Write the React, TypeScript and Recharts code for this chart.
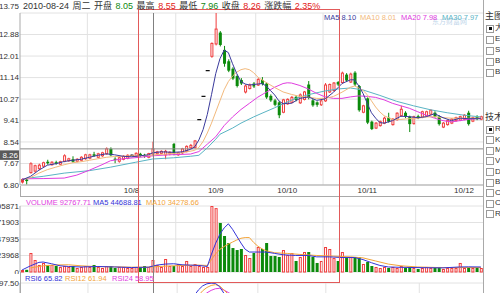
import React from "react";
import {
  Bar,
  CartesianGrid,
  ComposedChart,
  Line,
  ReferenceLine,
  XAxis,
  YAxis,
} from "recharts";

// daily candles (left to right)
const opens = [
  6.92, 7.02, 7.3, 7.36, 7.46, 7.56, 7.74, 7.62, 7.72, 7.64,
  7.76, 7.78, 7.84, 7.76, 7.8, 7.86, 7.88, 8.04, 7.92, 7.98,
  8.06, 8.26, 7.86, 7.76, 7.84, 7.88, 8.0, 7.96, 8.06, 8.02,
  7.92, 8.05, 8.06, 8.08, 8.02, 8.06, 8.46, 8.02, 8.1, 8.16,
  8.3, 8.32, 9.44, 10.38, 11.42, 12.0, 12.5, 12.96, 12.26, 11.8,
  11.5, 11.2, 11.04, 10.56, 10.7, 10.9, 10.84, 11.04, 10.9, 10.4,
  10.22, 10.14, 9.74, 10.08, 10.14, 10.36, 10.12, 10.26, 10.86, 10.22,
  10.14, 10.04, 10.2, 10.56, 10.62, 10.96, 10.94, 11.26, 10.96, 11.34,
  10.8, 9.74, 10.3, 9.36, 9.1, 9.2, 9.3, 9.52, 9.24, 9.44,
  9.6, 9.72, 9.56, 9.28, 9.58, 9.54, 9.6, 9.66, 9.72, 9.56,
  9.14, 9.24, 9.3, 9.4, 9.42, 9.46, 9.72, 9.38, 9.56, 9.46,
];
const highs = [
  7.06, 7.05, 7.72, 7.62, 7.66, 7.74, 7.82, 7.76, 7.78, 7.78,
  8.04, 7.9, 7.96, 7.88, 7.96, 8.06, 8.06, 8.14, 8.1, 8.14,
  8.32, 8.32, 7.92, 7.94, 8.0, 8.04, 8.04, 8.12, 8.1, 8.06,
  8.1, 8.55, 8.18, 8.2, 8.22, 8.16, 8.5, 8.14, 8.3, 8.4,
  8.46, 8.62, 9.44, 10.38, 11.42, 12.56, 13.75, 13.02, 12.42, 11.88,
  11.56, 11.26, 11.12, 10.86, 10.9, 10.96, 11.12, 11.16, 10.94, 10.46,
  10.28, 10.2, 10.28, 10.3, 10.4, 10.42, 10.5, 10.6, 11.0, 10.28,
  10.18, 10.24, 10.92, 10.9, 10.96, 11.0, 11.38, 11.32, 11.34, 11.4,
  10.84, 10.04, 10.34, 9.4, 9.34, 9.4, 9.56, 9.72, 9.5, 9.74,
  10.0, 9.78, 9.6, 9.6, 9.64, 9.8, 9.8, 9.86, 9.78, 9.62,
  9.34, 9.44, 9.5, 9.56, 9.6, 9.66, 9.8, 9.56, 9.62, 9.6,
];
const lows = [
  6.86, 6.82, 7.26, 7.3, 7.4, 7.52, 7.62, 7.58, 7.62, 7.6,
  7.72, 7.74, 7.7, 7.72, 7.76, 7.82, 7.84, 7.94, 7.88, 7.94,
  8.02, 7.96, 7.68, 7.7, 7.8, 7.84, 7.96, 7.92, 7.94, 7.9,
  7.88, 7.96, 8.02, 8.04, 7.84, 8.0, 8.0, 7.98, 8.06, 8.12,
  8.26, 8.28, 9.44, 10.38, 11.42, 11.94, 12.44, 12.4, 11.58, 11.36,
  11.04, 10.74, 10.84, 10.5, 10.66, 10.72, 10.8, 10.82, 10.28, 10.16,
  9.98, 9.5, 9.7, 10.04, 10.1, 10.18, 10.08, 10.22, 10.26, 9.96,
  9.96, 10.0, 10.16, 10.52, 10.58, 10.8, 10.9, 10.96, 10.92, 10.8,
  9.76, 9.7, 9.26, 9.02, 9.06, 9.16, 9.26, 9.32, 9.2, 9.4,
  9.56, 9.5, 8.94, 9.24, 9.46, 9.5, 9.56, 9.62, 9.52, 9.2,
  9.1, 9.2, 9.26, 9.36, 9.38, 9.42, 9.2, 9.34, 9.42, 9.42,
];
const closes = [
  7.02, 6.96, 7.66, 7.58, 7.6, 7.7, 7.68, 7.72, 7.66, 7.74,
  7.98, 7.86, 7.74, 7.84, 7.92, 8.02, 8.02, 7.98, 8.06, 8.1,
  8.26, 8.0, 7.82, 7.9, 7.96, 8.0, 8.0, 8.08, 7.98, 7.96,
  8.07, 8.26, 8.14, 8.16, 8.16, 8.12, 8.06, 8.1, 8.26, 8.36,
  8.4, 8.58, 9.44, 10.38, 11.42, 12.52, 13.1, 12.46, 11.7, 11.42,
  11.1, 10.8, 10.9, 10.8, 10.84, 10.78, 11.06, 10.88, 10.34, 10.22,
  10.04, 9.62, 10.24, 10.26, 10.34, 10.24, 10.44, 10.56, 10.32, 10.02,
  10.04, 10.2, 10.84, 10.86, 10.92, 10.86, 11.32, 11.02, 11.28, 10.86,
  9.82, 10.0, 9.32, 9.06, 9.3, 9.36, 9.5, 9.36, 9.46, 9.7,
  9.86, 9.56, 9.26, 9.56, 9.5, 9.76, 9.76, 9.82, 9.56, 9.26,
  9.3, 9.4, 9.46, 9.52, 9.56, 9.62, 9.26, 9.52, 9.46, 9.56,
];
const volumes = [
  2900, 3200, 27600, 17400, 10200, 13100, 10200, 10200, 8700, 7300,
  8700, 7300, 8700, 5800, 7300, 8700, 7300, 10200, 7300, 5800,
  8700, 8700, 5800, 7300, 7300, 5800, 5800, 7300, 7300, 8700,
  7300, 17400, 10200, 7300, 18900, 8700, 8700, 11600, 8700, 16000,
  8700, 11600, 8700, 7300, 7300, 95871, 92768, 71200, 52300, 42100,
  34800, 31900, 33400, 24700, 20300, 27600, 36300, 33400, 42100, 23200,
  23200, 21800, 31900, 24700, 27600, 16000, 21800, 29000, 29000, 21800,
  13100, 16000, 36300, 33400, 20300, 16000, 29000, 20300, 21800, 21800,
  21800, 11600, 14500, 8700, 7300, 5800, 7300, 5800, 7300, 5800,
  8700, 5800, 7300, 5800, 4400, 5800, 7300, 5800, 5800, 7300,
  4400, 5800, 5800, 5800, 13100, 5800, 7300, 5800, 5800, 5800,
];

// moving-average lines, read at [candle index, value]
type Pt = [number, number];
const ma5Pts: Pt[] = [
  [0, 7.0], [2, 7.15], [4, 7.4], [6, 7.6], [8, 7.66], [10, 7.75], [12, 7.8], [14, 7.84],
  [16, 7.92], [18, 8.0], [20, 8.06], [22, 8.02], [24, 7.96], [26, 7.94], [28, 7.98],
  [30, 8.02], [31, 8.1], [33, 8.14], [36, 8.12], [38, 8.14], [40, 8.24], [41, 8.34],
  [42, 8.62], [43, 9.04], [44, 9.65], [45, 10.45], [46, 11.3], [47, 11.9], [48, 12.25],
  [49, 12.15], [50, 11.7], [51, 11.3], [52, 10.98], [53, 10.88], [54, 10.84], [56, 10.88],
  [57, 10.9], [58, 10.8], [59, 10.62], [60, 10.44], [61, 10.2], [62, 10.08], [63, 10.1],
  [64, 10.1], [66, 10.3], [68, 10.36], [70, 10.22], [72, 10.28], [74, 10.55], [76, 10.9],
  [78, 11.05], [79, 11.05], [80, 10.8], [81, 10.5], [82, 10.1], [83, 9.72], [84, 9.5],
  [85, 9.32], [86, 9.3], [88, 9.4], [90, 9.58], [92, 9.56], [94, 9.52], [96, 9.56],
  [98, 9.68], [100, 9.52], [102, 9.4], [104, 9.5], [106, 9.48], [109, 9.48],
];
const ma10Pts: Pt[] = [
  [0, 7.02], [2, 7.1], [4, 7.28], [6, 7.42], [8, 7.52], [10, 7.62], [12, 7.7], [14, 7.74],
  [16, 7.8], [18, 7.86], [20, 7.92], [22, 7.95], [24, 7.96], [26, 7.98], [28, 7.98],
  [30, 8.0], [31, 8.01], [34, 8.05], [38, 8.1], [41, 8.2], [42, 8.32], [43, 8.56],
  [44, 8.9], [45, 9.3], [46, 9.75], [47, 10.2], [48, 10.65], [49, 10.98], [50, 11.2],
  [51, 11.36], [52, 11.46], [53, 11.5], [54, 11.46], [55, 11.34], [56, 11.16], [58, 10.94],
  [60, 10.74], [62, 10.56], [64, 10.46], [66, 10.38], [68, 10.35], [70, 10.3], [72, 10.3],
  [74, 10.38], [76, 10.55], [78, 10.75], [79, 10.8], [80, 10.72], [81, 10.62], [82, 10.45],
  [83, 10.2], [84, 9.95], [85, 9.75], [86, 9.6], [88, 9.45], [90, 9.45], [92, 9.48],
  [94, 9.5], [96, 9.55], [98, 9.56], [100, 9.52], [102, 9.5], [104, 9.5], [106, 9.5],
  [109, 9.5],
];
const ma20Pts: Pt[] = [
  [0, 7.05], [5, 7.06], [10, 7.08], [13, 7.2], [16, 7.4], [19, 7.62], [21, 7.78],
  [24, 7.86], [28, 7.92], [31, 7.98], [35, 8.02], [40, 8.05], [42, 8.15], [44, 8.45],
  [46, 8.75], [48, 9.2], [50, 9.55], [52, 9.85], [54, 10.1], [56, 10.35], [58, 10.55],
  [60, 10.75], [62, 10.9], [63, 10.93], [64, 10.92], [66, 10.82], [68, 10.68], [70, 10.5],
  [72, 10.36], [74, 10.3], [76, 10.3], [78, 10.36], [80, 10.4], [82, 10.38], [84, 10.34],
  [86, 10.24], [88, 10.1], [90, 10.0], [92, 9.9], [94, 9.76], [96, 9.62], [98, 9.5],
  [100, 9.4], [102, 9.35], [104, 9.4], [106, 9.45], [109, 9.5],
];
const ma30Pts: Pt[] = [
  [0, 7.05], [5, 7.15], [10, 7.28], [16, 7.38], [21, 7.52], [27, 7.72], [31, 7.85],
  [36, 7.9], [40, 7.96], [42, 8.0], [44, 8.3], [46, 8.65], [47, 8.85], [50, 9.1],
  [52, 9.3], [55, 9.55], [57, 9.7], [60, 9.92], [62, 10.08], [65, 10.3], [68, 10.45],
  [72, 10.6], [75, 10.68], [78, 10.72], [81, 10.64], [85, 10.42], [89, 10.18], [93, 10.0],
  [97, 9.84], [101, 9.72], [105, 9.62], [109, 9.55],
];
const vma5Pts: Pt[] = [
  [0, 3000], [2, 9000], [4, 14000], [5, 14500], [7, 12000], [9, 9000], [11, 8000],
  [14, 7300], [18, 8000], [22, 7300], [26, 6500], [30, 7000], [32, 10000], [34, 11500],
  [36, 12000], [38, 10500], [40, 10000], [42, 9500], [44, 8000], [45, 26000], [46, 42000],
  [47, 55000], [48, 64000], [49, 70000], [50, 62000], [51, 52000], [52, 42000], [53, 33000],
  [54, 29000], [56, 29000], [58, 29000], [60, 27000], [62, 25000], [65, 24000], [68, 24000],
  [70, 22000], [73, 22000], [76, 21000], [79, 21000], [81, 18000], [83, 13500], [85, 9500],
  [87, 7300], [90, 6800], [95, 6300], [100, 6000], [104, 7300], [106, 7500], [109, 7300],
];
const vma10Pts: Pt[] = [
  [2, 6000], [5, 9000], [8, 10200], [11, 10500], [14, 9000], [18, 7800], [22, 7500],
  [26, 7000], [30, 7000], [34, 8500], [38, 9500], [42, 10000], [44, 9500], [45, 18000],
  [46, 26500], [47, 33000], [48, 37000], [49, 40500], [50, 43500], [51, 46500], [52, 49000],
  [53, 50000], [54, 50000], [55, 43000], [56, 37500], [57, 33700], [58, 30700], [60, 28000],
  [63, 27000], [66, 25500], [70, 24000], [74, 23000], [78, 22000], [81, 20500], [84, 16000],
  [87, 11500], [90, 9000], [94, 7300], [100, 6300], [105, 6500], [109, 6500],
];
const rsi6Pts: Pt[] = [
  [38, 62], [39, 66], [40, 72], [41, 82], [42, 89], [43, 94], [44, 96.5], [45, 97.3],
  [46, 97], [47, 93], [48, 85], [49, 77], [50, 70],
];
const rsi12Pts: Pt[] = [
  [40, 66], [41, 74], [42, 82], [43, 88], [44, 92], [45, 94.5], [46, 95.5], [47, 94],
  [48, 89], [49, 84], [50, 79],
];
const rsi24Pts: Pt[] = [
  [41, 68], [42, 75], [43, 81], [44, 85.5], [45, 88.5], [46, 90.5], [47, 91], [48, 89],
  [49, 86], [50, 83],
];

const priceTicks = [6.8, 7.67, 8.54, 9.41, 10.27, 11.14, 12.01, 12.88, 13.75];
const volumeTicks = [0, 23968, 47935, 71903, 95871];
const rsiTicks = [0, 32.5, 65, 97.5];
const monthLabels = ["10/8", "10/9", "10/10", "10/11", "10/12"];
const monthLabelIdx = [26, 46, 63, 82, 105];
const monthStartIdx = [16, 37, 56, 72, 94];
const CURSOR = 31; // 2010-08-24

const FONT = '"Liberation Sans", Arial, "Noto Sans CJK SC", sans-serif';
const RED = "#f03c3c";
const GREEN = "#0b8a0b";
const GRID = "#e2e2e2";
const FRAME = "#a9a9a9";
const TXT = "#333";
const C_MA5 = "#3a3a9c";
const C_MA10 = "#f2b97c";
const C_MA20 = "#e03ce0";
const C_MA30 = "#5ab4c4";
const C_VMA5 = "#3434d8";
const C_VMA10 = "#f3a43a";

const CHART_W = 483;
const PLOT_L = 20;
const STEP = (CHART_W - PLOT_L) / closes.length;

const spread = (pts: Pt[]) => {
  const out: (number | null)[] = closes.map(() => null);
  pts.forEach(([i, v]) => (out[i] = v));
  return out;
};
const ma5 = spread(ma5Pts);
const ma10 = spread(ma10Pts);
const ma20 = spread(ma20Pts);
const ma30 = spread(ma30Pts);
const vma5 = spread(vma5Pts);
const vma10 = spread(vma10Pts);
const rsi6 = spread(rsi6Pts);
const rsi12 = spread(rsi12Pts);
const rsi24 = spread(rsi24Pts);

const rows = closes.map((c, i) => ({
  i,
  o: opens[i],
  h: highs[i],
  l: lows[i],
  c,
  range: [lows[i], highs[i]],
  v: volumes[i],
  ma5: ma5[i],
  ma10: ma10[i],
  ma20: ma20[i],
  ma30: ma30[i],
  vma5: vma5[i],
  vma10: vma10[i],
  rsi6: rsi6[i],
  rsi12: rsi12[i],
  rsi24: rsi24[i],
}));

const labelAt: Record<number, string> = {};
monthLabelIdx.forEach((idx, k) => (labelAt[idx] = monthLabels[k]));

function Candle(props: any) {
  const { x, y, width, height, payload } = props;
  if (x == null || !payload) return null;
  const { o, h, l, c } = payload;
  const top = Math.min(y, y + height);
  const hh = Math.abs(height);
  const cx = x + width / 2;
  const py = (v: number) => (h > l ? top + ((h - v) / (h - l)) * hh : top);
  if (h === l) {
    return <line x1={x - 0.5} x2={x + width + 0.5} y1={top} y2={top} stroke="#111" strokeWidth={1.3} />;
  }
  const bTop = py(Math.max(o, c));
  const bBot = py(Math.min(o, c));
  if (o === c) {
    return (
      <g>
        <line x1={cx} x2={cx} y1={top} y2={top + hh} stroke="#222" />
        <line x1={x - 0.5} x2={x + width + 0.5} y1={bTop} y2={bTop} stroke="#222" strokeWidth={1.3} />
      </g>
    );
  }
  if (c > o) {
    return (
      <g>
        <line x1={cx} x2={cx} y1={top} y2={bTop} stroke={RED} />
        <line x1={cx} x2={cx} y1={bBot} y2={top + hh} stroke={RED} />
        <rect x={x + 0.5} y={bTop} width={width - 1} height={Math.max(bBot - bTop, 0.5)} fill="#fff" stroke={RED} />
      </g>
    );
  }
  return (
    <g>
      <line x1={cx} x2={cx} y1={top} y2={top + hh} stroke={GREEN} />
      <rect x={x} y={bTop} width={width} height={Math.max(bBot - bTop, 1)} fill={GREEN} />
    </g>
  );
}

function VolBar(props: any) {
  const { x, y, width, height, payload } = props;
  if (x == null || !payload) return null;
  const top = Math.min(y, y + height);
  const hh = Math.abs(height);
  if (payload.c >= payload.o) {
    return <rect x={x + 0.5} y={top + 0.5} width={width - 1} height={Math.max(hh - 0.5, 0.5)} fill="#fff" stroke={RED} />;
  }
  return <rect x={x} y={top} width={width} height={hh} fill={GREEN} />;
}

function AxisTick(props: any) {
  const { x, y, payload, digits, lift } = props;
  const v = payload.value as number;
  const dy = lift != null && v === lift ? -7 : 0;
  return (
    <text x={x} y={y + dy} dy="0.35em" textAnchor="end" fontSize={8} fill={TXT} fontFamily={FONT}>
      {v.toFixed(digits)}
    </text>
  );
}

function PriceTag(props: any) {
  const vb = props.viewBox || {};
  const yy = vb.y ?? 0;
  return (
    <g>
      <rect x={0} y={yy + 1.5} width={19} height={9.5} fill="#5a5a5a" />
      <text x={18} y={yy + 6.3} dy="0.35em" textAnchor="end" fontSize={8} fill="#fff" fontFamily={FONT}>
        {closes[CURSOR].toFixed(2)}
      </text>
    </g>
  );
}

function Txt({ x, y, color = TXT, size = 8, children }: any) {
  return (
    <span
      style={{
        position: "absolute",
        left: x,
        top: y - size * 0.6,
        fontSize: size,
        lineHeight: `${size * 1.2}px`,
        color,
        whiteSpace: "nowrap",
      }}
    >
      {children}
    </span>
  );
}

function Box({ y, checked, letter }: { y: number; checked?: boolean; letter: string }) {
  return (
    <>
      <span
        style={{
          position: "absolute",
          left: 486,
          top: y - 3.5,
          width: 6,
          height: 6,
          border: "1px solid #9a9a9a",
          background: "#fff",
        }}
      >
        {checked && (
          <span style={{ position: "absolute", left: 1.5, top: 1.5, width: 3, height: 3, background: "#111" }} />
        )}
      </span>
      <Txt x={495} y={y} size={8}>
        {letter}
      </Txt>
    </>
  );
}

const monthLines = monthStartIdx.map((m) => (
  <ReferenceLine key={m} x={m} position="start" stroke={GRID} />
));

export default function App() {
  const prev = closes[CURSOR - 1];
  const pct = ((closes[CURSOR] - prev) / prev) * 100;
  const header: [string, string][] = [
    ["2010-08-24", TXT],
    ["周二", TXT],
    ["开盘", TXT],
    [opens[CURSOR].toFixed(2), "#118811"],
    ["最高", TXT],
    [highs[CURSOR].toFixed(2), "#e32020"],
    ["最低", TXT],
    [lows[CURSOR].toFixed(2), "#118811"],
    ["收盘", TXT],
    [closes[CURSOR].toFixed(2), "#e32020"],
    ["涨跌幅", TXT],
    [pct.toFixed(2) + "%", "#e32020"],
  ];
  const cursorX = PLOT_L + (CURSOR + 0.5) * STEP;
  const boxL = PLOT_L + 28 * STEP;
  const boxR = PLOT_L + 76 * STEP;

  return (
    <div
      style={{
        position: "absolute",
        left: 0,
        top: 0,
        width: 500,
        height: 293,
        overflow: "hidden",
        background: "#fff",
        fontFamily: FONT,
      }}
    >
      {/* price panel */}
      <div style={{ position: "absolute", left: 0, top: 0 }}>
        <ComposedChart
          width={CHART_W}
          height={197}
          data={rows}
          margin={{ top: 13, right: 0, bottom: 0, left: 0 }}
        >
          <CartesianGrid vertical={false} stroke={GRID} />
          {monthLines}
          <XAxis
            dataKey="i"
            interval={0}
            height={12}
            tickLine={false}
            tickSize={0}
            tickMargin={2}
            axisLine={{ stroke: FRAME }}
            tick={{ fontSize: 8, fill: TXT, fontFamily: FONT }}
            tickFormatter={(v: number) => labelAt[v] ?? ""}
          />
          <YAxis
            domain={[6.8, 13.75]}
            ticks={priceTicks}
            interval={0}
            width={20}
            tickSize={0}
            tickMargin={1}
            tickLine={false}
            axisLine={{ stroke: FRAME }}
            allowDataOverflow
            tick={<AxisTick digits={2} lift={13.75} />}
          />
          <ReferenceLine y={closes[CURSOR]} stroke="#8c8c8c" label={<PriceTag />} />
          <Line dataKey="ma30" stroke={C_MA30} dot={false} activeDot={false} connectNulls isAnimationActive={false} />
          <Line dataKey="ma20" stroke={C_MA20} dot={false} activeDot={false} connectNulls isAnimationActive={false} />
          <Line dataKey="ma10" stroke={C_MA10} dot={false} activeDot={false} connectNulls isAnimationActive={false} />
          <Line dataKey="ma5" stroke={C_MA5} dot={false} activeDot={false} connectNulls isAnimationActive={false} />
          <Bar dataKey="range" barSize={3} shape={<Candle />} isAnimationActive={false} />
        </ComposedChart>
      </div>

      {/* volume panel */}
      <div style={{ position: "absolute", left: 0, top: 196 }}>
        <ComposedChart
          width={CHART_W}
          height={78}
          data={rows}
          margin={{ top: 10, right: 0, bottom: 2, left: 0 }}
        >
          <CartesianGrid vertical={false} stroke={GRID} />
          {monthLines}
          <XAxis dataKey="i" hide height={0} />
          <YAxis
            domain={[0, 95871]}
            ticks={volumeTicks}
            interval={0}
            width={20}
            tickSize={0}
            tickMargin={1}
            tickLine={false}
            axisLine={{ stroke: FRAME }}
            tick={<AxisTick digits={0} />}
          />
          <Bar dataKey="v" barSize={3} shape={<VolBar />} isAnimationActive={false} />
          <Line dataKey="vma10" stroke={C_VMA10} dot={false} activeDot={false} connectNulls isAnimationActive={false} />
          <Line dataKey="vma5" stroke={C_VMA5} dot={false} activeDot={false} connectNulls isAnimationActive={false} />
        </ComposedChart>
      </div>

      {/* RSI panel (only its top shows) */}
      <div style={{ position: "absolute", left: 0, top: 273 }}>
        <ComposedChart
          width={CHART_W}
          height={100}
          data={rows}
          margin={{ top: 10, right: 0, bottom: 10, left: 0 }}
        >
          <CartesianGrid vertical={false} stroke={GRID} />
          {monthLines}
          <XAxis dataKey="i" hide height={0} />
          <YAxis
            domain={[0, 97.5]}
            ticks={rsiTicks}
            interval={0}
            width={20}
            tickSize={0}
            tickMargin={1}
            tickLine={false}
            axisLine={{ stroke: FRAME }}
            tick={<AxisTick digits={2} />}
          />
          <Line dataKey="rsi24" stroke={C_MA20} dot={false} activeDot={false} connectNulls isAnimationActive={false} />
          <Line dataKey="rsi12" stroke={C_VMA10} dot={false} activeDot={false} connectNulls isAnimationActive={false} />
          <Line dataKey="rsi6" stroke={C_VMA5} dot={false} activeDot={false} connectNulls isAnimationActive={false} />
        </ComposedChart>
      </div>

      {/* panel frames */}
      <div style={{ position: "absolute", left: PLOT_L, top: 196, width: CHART_W - PLOT_L, height: 0, borderTop: `1px solid ${FRAME}` }} />
      <div style={{ position: "absolute", left: PLOT_L, top: 186, width: 0, height: 10, borderLeft: `1px solid ${FRAME}` }} />
      <div style={{ position: "absolute", left: PLOT_L, top: 272, width: 0, height: 21, borderLeft: `1px solid ${FRAME}` }} />

      {/* cursor and selection box */}
      <div style={{ position: "absolute", left: cursorX, top: 13, width: 0, height: 280, borderLeft: "1px solid #808080" }} />
      <div
        style={{
          position: "absolute",
          left: boxL,
          top: 9,
          width: boxR - boxL,
          height: 274,
          border: "1px solid #e25a5a",
          boxSizing: "border-box",
        }}
      />

      {/* header */}
      <div
        style={{
          position: "absolute",
          left: 23,
          top: 1,
          display: "flex",
          gap: 3.5,
          fontSize: 9,
          lineHeight: "11px",
          whiteSpace: "nowrap",
        }}
      >
        {header.map(([t, col], k) => (
          <span key={k} style={{ color: col }}>
            {t}
          </span>
        ))}
      </div>

      {/* price legend + watermark */}
      <Txt x={432} y={22} color="#c2d6ea" size={7}>东方财富网</Txt>
      <Txt x={324} y={17} color={C_MA5} size={7.5}>MA5 8.10</Txt>
      <Txt x={360} y={17} color={C_MA10} size={7.5}>MA10 8.01</Txt>
      <Txt x={401} y={17} color={C_MA20} size={7.5}>MA20 7.98</Txt>
      <Txt x={442} y={17} color={C_MA30} size={7.5}>MA30 7.97</Txt>

      {/* volume legend */}
      <Txt x={26} y={202} color={C_MA20} size={7.5}>VOLUME 92767.71</Txt>
      <Txt x={93} y={202} color={C_VMA5} size={7.5}>MA5 44688.81</Txt>
      <Txt x={146} y={202} color={C_VMA10} size={7.5}>MA10 34278.66</Txt>

      {/* RSI legend */}
      <Txt x={25} y={278} color={C_VMA5} size={7.5}>RSI6 65.82</Txt>
      <Txt x={65} y={278} color={C_VMA10} size={7.5}>RSI12 61.94</Txt>
      <Txt x={112} y={278} color={C_MA20} size={7.5}>RSI24 58.95</Txt>

      {/* side option panel */}
      <div
        style={{
          position: "absolute",
          left: CHART_W,
          top: 0,
          width: 500 - CHART_W,
          height: 293,
          borderLeft: `1px solid ${FRAME}`,
          background: "#fff",
        }}
      />
      <Txt x={485} y={16} size={9}>主图</Txt>
      {["大", "E", "S", "B", "B"].map((t, k) => (
        <Box key={"a" + k} y={28 + k * 11} checked={k === 0} letter={t} />
      ))}
      <Txt x={485} y={117} size={9}>技术</Txt>
      {["R", "K", "M", "V", "D", "B", "C", "C", "R"].map((t, k) => (
        <Box key={"b" + k} y={129 + k * 10.6} checked={k === 0} letter={t} />
      ))}
    </div>
  );
}
